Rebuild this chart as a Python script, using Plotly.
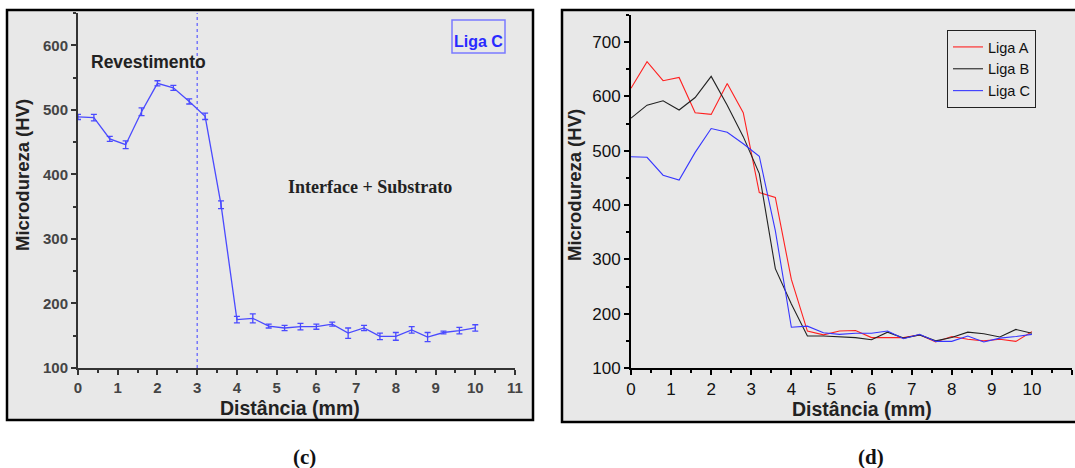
import plotly.graph_objects as go

# distance along the profile (mm)
dist = [0, 0.4, 0.8, 1.2, 1.6, 2.0, 2.4, 2.8, 3.2, 3.6, 4.0, 4.4, 4.8,
        5.2, 5.6, 6.0, 6.4, 6.8, 7.2, 7.6, 8.0, 8.4, 8.8, 9.2, 9.6, 10.0]

# microhardness (HV)
liga_a = [615, 664, 629, 635, 570, 567, 624, 570, 423, 414, 263, 168, 161,
          168, 169, 156, 156, 156, 161, 148, 158, 153, 150, 153, 149, 167]
liga_b = [560, 584, 592, 575, 598, 637, 584, 526, 458, 283, 218, 159, 159,
          158, 156, 152, 166, 155, 161, 150, 156, 166, 163, 157, 171, 164]
liga_c = [489, 488, 455, 446, 497, 541, 534, 513, 490, 353, 175, 177, 165,
          162, 164, 164, 168, 154, 162, 149, 149, 159, 148, 155, 158, 162]
liga_c_err = [4, 5, 4, 6, 6, 4, 4, 4, 5, 6, 5, 7, 3,
              4, 5, 4, 3, 8, 4, 5, 6, 5, 7, 2, 5, 5]

boundary = 3  # coating / substrate limit (mm)

W, H = 1075, 468
def px(x):
    return x / W
def py(y):
    return 1 - y / H

blue = "#4a4aff"
fig = go.Figure()

# (c) - Liga C with error bars
fig.add_trace(go.Scatter(
    x=dist, y=liga_c, mode="lines", xaxis="x", yaxis="y",
    line=dict(color=blue, width=1.3), showlegend=False,
    error_y=dict(type="data", array=liga_c_err, color=blue, thickness=1.3, width=3),
))

# (d) - all three alloys
for name, vals, col in [("Liga A", liga_a, "#ff2020"),
                        ("Liga B", liga_b, "#222222"),
                        ("Liga C", liga_c, "#3636ff")]:
    fig.add_trace(go.Scatter(
        x=dist, y=vals, mode="lines", name=name, xaxis="x2", yaxis="y2",
        line=dict(color=col, width=1.1),
    ))

ax_c = dict(showgrid=False, zeroline=False, showline=True, linewidth=2,
            linecolor="#333", ticks="outside", ticklen=5, tickwidth=1.5,
            tickcolor="#333", automargin=False,
            tickfont=dict(family="Liberation Sans", size=15, color="#444",
                          weight="bold"))
ax_d = dict(showgrid=False, zeroline=False, showline=True, linewidth=2,
            linecolor="#000", ticks="outside", ticklen=5, tickwidth=1.5,
            tickcolor="#000", automargin=False,
            tickfont=dict(family="Liberation Sans", size=17, color="#111"))

fig.update_layout(
    width=W, height=H,
    margin=dict(l=0, r=0, t=0, b=0),
    paper_bgcolor="white", plot_bgcolor="rgba(0,0,0,0)",
    xaxis=dict(ax_c, domain=[px(78), px(515)], range=[0, 11], dtick=1,
               anchor="y", minor=dict(ticks="outside", ticklen=3, dtick=0.5,
                                      tickcolor="#333")),
    yaxis=dict(ax_c, domain=[py(368), py(13)], range=[100, 650], dtick=100,
               anchor="x", minor=dict(ticks="outside", ticklen=3, dtick=50,
                                      tickcolor="#333")),
    xaxis2=dict(ax_d, domain=[px(631), px(1072)], range=[0, 11], dtick=1,
                anchor="y2", minor=dict(ticks="outside", ticklen=3, dtick=0.5,
                                        tickcolor="#000")),
    yaxis2=dict(ax_d, domain=[py(368), py(15)], range=[100, 750], dtick=100,
                anchor="x2", minor=dict(ticks="outside", ticklen=3, dtick=50,
                                        tickcolor="#000")),
    legend=dict(x=px(947), y=py(30), xanchor="left", yanchor="top",
                bordercolor="#222", borderwidth=1, bgcolor="rgba(0,0,0,0)",
                font=dict(family="Liberation Sans", size=14.5, color="#111"),
                tracegroupgap=0),
    shapes=[
        dict(type="rect", xref="paper", yref="paper", x0=px(7), x1=px(533),
             y0=py(420), y1=py(10), fillcolor="#e8e8e8",
             line=dict(color="black", width=2.5), layer="below"),
        dict(type="rect", xref="paper", yref="paper", x0=px(562), x1=1.02,
             y0=py(422), y1=py(10), fillcolor="#e8e8e8",
             line=dict(color="black", width=2.5), layer="below"),
        dict(type="line", xref="x", yref="y domain", x0=boundary, x1=boundary,
             y0=0, y1=1, line=dict(color="#5a5aff", width=1.2, dash="dot")),
        dict(type="rect", xref="paper", yref="paper", x0=px(452), x1=px(505),
             y0=py(53), y1=py(20), line=dict(color="#7a7aff", width=1.5)),
    ],
)

bold_sans = dict(family="Liberation Sans", size=18.5, color="#222", weight="bold")
notes = [
    ("Microdureza (HV)", 22, 175, -90, bold_sans),
    ("Distância (mm)", 290, 408, 0, dict(bold_sans, size=19.5)),
    ("Microdureza (HV)", 575, 185, -90, bold_sans),
    ("Distância (mm)", 862, 409, 0, dict(bold_sans, size=19.5)),
    ("Revestimento", 148, 62, 0,
     dict(family="Liberation Sans", size=17.5, color="#222", weight="bold")),
    ("Interface + Substrato", 370, 187, 0,
     dict(family="Liberation Serif", size=18, color="#222", weight="bold")),
    ("Liga C", 478, 41, 0,
     dict(family="Liberation Sans", size=16, color="#2a2aff", weight="bold")),
    ("(c)", 304, 457, 0,
     dict(family="Liberation Serif", size=21, color="#111", weight="bold")),
    ("(d)", 871, 457, 0,
     dict(family="Liberation Serif", size=21, color="#111", weight="bold")),
]
for text, x, y, ang, font in notes:
    fig.add_annotation(text=text, x=px(x), y=py(y), xref="paper", yref="paper",
                       showarrow=False, textangle=ang, font=font,
                       xanchor="center", yanchor="middle")

# drop the default 8px body margin so the figure sits at the page origin
fig.write_html("out.html", config={"displayModeBar": False},
               post_script="document.body.style.margin='0px';")
